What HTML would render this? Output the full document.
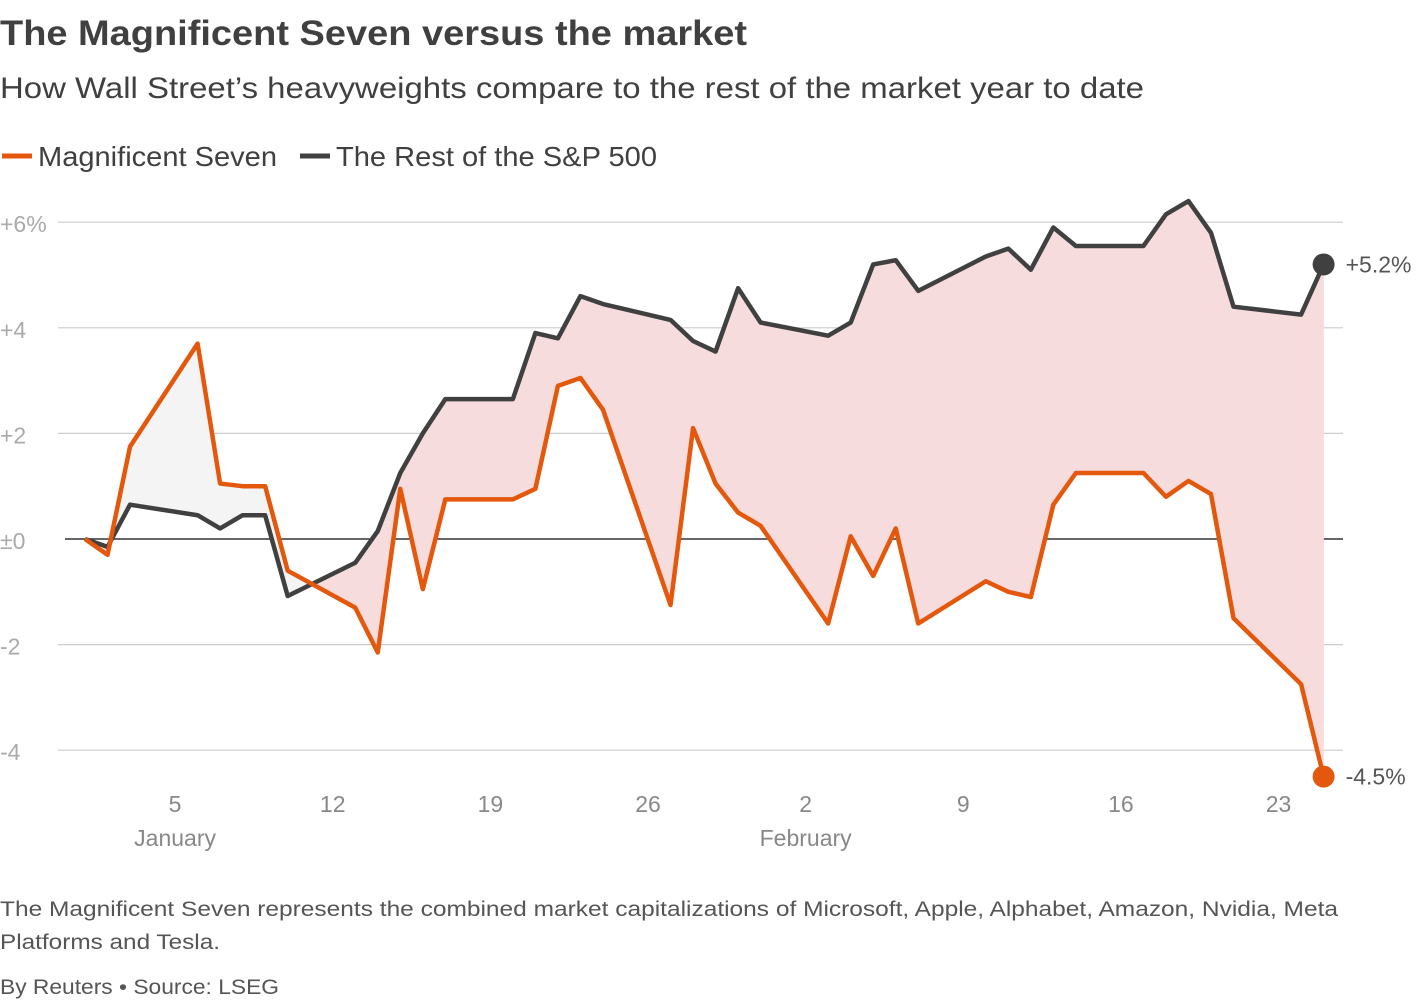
<!DOCTYPE html>
<html><head><meta charset="utf-8"><style>
body{margin:0;background:#fff;font-family:"Liberation Sans",sans-serif;}
svg text{font-family:"Liberation Sans",sans-serif;}
</style></head><body>
<svg id="c" width="1420" height="1000">
<text x="0" y="45" font-size="35" font-weight="bold" fill="#404040" textLength="747" lengthAdjust="spacingAndGlyphs">The Magnificent Seven versus the market</text>
<text x="0" y="98" font-size="30" fill="#404040" textLength="1144" lengthAdjust="spacingAndGlyphs">How Wall Street’s heavyweights compare to the rest of the market year to date</text>
<g>
<line x1="2" y1="156" x2="32" y2="156" stroke="#e4580e" stroke-width="5"/>
<text x="38" y="166" font-size="28" fill="#404040" textLength="239" lengthAdjust="spacingAndGlyphs">Magnificent Seven</text>
<line x1="300" y1="156" x2="330" y2="156" stroke="#404040" stroke-width="5"/>
<text x="336" y="166" font-size="28" fill="#404040" textLength="321" lengthAdjust="spacingAndGlyphs">The Rest of the S&amp;P 500</text>
</g>
<g id="grid"></g><g id="fills"></g><g id="lines"></g>
<text x="0" y="916" font-size="21" fill="#555" textLength="1338" lengthAdjust="spacingAndGlyphs">The Magnificent Seven represents the combined market capitalizations of Microsoft, Apple, Alphabet, Amazon, Nvidia, Meta</text>
<text x="0" y="949" font-size="21" fill="#555" textLength="220" lengthAdjust="spacingAndGlyphs">Platforms and Tesla.</text>
<text x="0" y="994" font-size="21" fill="#555" textLength="279" lengthAdjust="spacingAndGlyphs">By Reuters • Source: LSEG</text>
</svg>
<script>
const days=[1,2,3,6,7,8,9,10,13,14,15,16,17,20,21,22,23,24,27,28,29,30,31,34,35,36,37,38,41,42,43,44,45,48,49,50,51,52,55,56];
const rest=[0,-0.15,0.65,0.45,0.2,0.45,0.45,-1.08,-0.45,0.15,1.25,2.0,2.65,2.65,3.9,3.8,4.6,4.45,4.15,3.75,3.55,4.75,4.1,3.85,4.1,5.2,5.28,4.7,5.35,5.5,5.1,5.9,5.55,5.55,6.15,6.4,5.8,4.4,4.25,5.2];
const mag7=[0,-0.3,1.75,3.7,1.05,1.0,1.0,-0.6,-1.3,-2.15,0.95,-0.95,0.75,0.75,0.95,2.9,3.05,2.45,-1.25,2.1,1.05,0.5,0.25,-1.6,0.05,-0.7,0.2,-1.6,-0.8,-1.0,-1.1,0.65,1.25,1.25,0.8,1.1,0.85,-1.5,-2.75,-4.5];
const yTicks=[6,4,2,0,-2,-4];
const yTickLabels=["+6%","+4","+2","±0","-2","-4"];
const xTickDays=[5,12,19,26,33,40,47,54];
const xTickLabels=["5","12","19","26","2","9","16","23"];
const monthDays=[5,33];
const monthLabels=["January","February"];
const X=d=>85+(d-1)*22.52;
const Y=v=>539-v*52.8;
const NS="http://www.w3.org/2000/svg";
function mk(t,a,p){const e=document.createElementNS(NS,t);for(const k in a)e.setAttribute(k,a[k]);p.appendChild(e);return e;}
const grid=document.getElementById('grid'),fills=document.getElementById('fills'),lines=document.getElementById('lines');
yTicks.forEach((v,i)=>{
 const l=mk('line',{x1:v===0?65:58,x2:1343,y1:Y(v),y2:Y(v),stroke:v===0?'#333':'#ccc','stroke-width':v===0?1.5:1.2},grid);
 
 
 const t=mk('text',{x:0,y:Y(v)+10,'font-size':23,fill:'#aaa'},grid);t.textContent=yTickLabels[i];
 
 
});
xTickDays.forEach((d,i)=>{
 const t=mk('text',{x:X(d),y:812,'font-size':23,fill:'#888','text-anchor':'middle'},grid);t.textContent=xTickLabels[i];
 
 
});
monthDays.forEach((d,i)=>{
 const t=mk('text',{x:X(d),y:846,'font-size':23,fill:'#888','text-anchor':'middle'},grid);t.textContent=monthLabels[i];
 
 
});
for(let i=0;i<days.length-1;i++){
 const x0=X(days[i]),x1=X(days[i+1]);
 const b0=rest[i],b1=rest[i+1],o0=mag7[i],o1=mag7[i+1];
 const d0=b0-o0,d1=b1-o1;
 const col=d=>d>=0?'#f7dcdd':'#f4f4f4';
 let polys=[];
 if(d0*d1>=0){polys.push([[x0,Y(b0),x1,Y(b1),x1,Y(o1),x0,Y(o0)],d0+d1]);}
 else{const t=d0/(d0-d1),xc=x0+(x1-x0)*t,vc=b0+(b1-b0)*t;
  polys.push([[x0,Y(b0),xc,Y(vc),x0,Y(o0)],d0]);
  polys.push([[xc,Y(vc),x1,Y(b1),x1,Y(o1)],d1]);}
 polys.forEach(([pts,s])=>{
  const p=mk('polygon',{points:pts.join(' '),fill:col(s),stroke:col(s),'stroke-width':0.5},fills);
  
  
 });
}
function line(vals,color,name){
 const p=mk('polyline',{points:days.map((d,i)=>X(d)+','+Y(vals[i])).join(' '),fill:'none',stroke:color,'stroke-width':4.5,'stroke-linejoin':'round'},lines);
 
 
 const n=days.length-1;
 const c=mk('circle',{cx:X(days[n]),cy:Y(vals[n]),r:11,fill:color},lines);
 
 
 const t=mk('text',{x:X(days[n])+22,y:Y(vals[n])+8,'font-size':23,fill:'#555'},lines);
 t.textContent=(vals[n]>=0?'+':'')+vals[n].toFixed(1)+'%';
 
 
}
line(rest,'#404040','rest-sp500-line');
line(mag7,'#e4580e','mag7-line');
</script>
</body></html>
